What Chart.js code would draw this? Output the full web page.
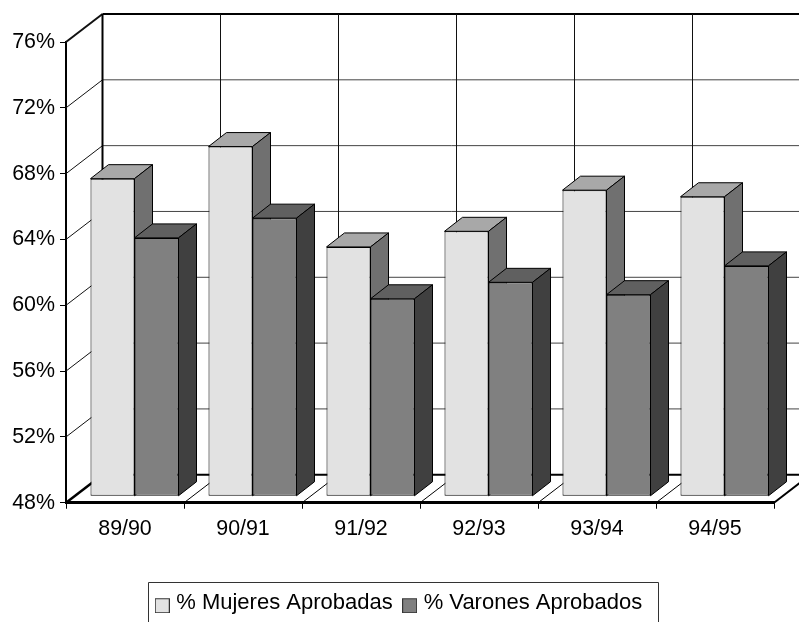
<!DOCTYPE html>
<html>
<head>
  <title>% Aprobados</title>
  <script src="https://cdn.jsdelivr.net/npm/chart.js"></script>
  <style>
    body { margin: 0; background: white; }
    canvas { display: block; }
  </style>
</head>
<body>
  <canvas id="chart" width="799" height="622"></canvas>

  <script>
    const categories = ['89/90', '90/91', '91/92', '92/93', '93/94', '94/95'];
    const mujeres = [67.3, 69.25, 63.15, 64.1, 66.6, 66.2];
    const varones = [63.7, 64.9, 60.0, 61.0, 60.25, 62.0];
    const seriesNames = ['% Mujeres Aprobadas', '% Varones Aprobados'];
    const yMin = 48, yMax = 76, yStep = 4;

    // fake 3D: depth of the box, depth of a bar, and where the bars stand in the box
    const WALL_DX = 36.5, WALL_DY = -28;
    const BAR_DX = 18, BAR_DY = -14;
    const SHIFT_X = 9.5, SHIFT_Y = -6.5;
    const LEGEND_SHIFT = 13.7;

    const shades = [
      { front: '#e2e2e2', top: '#a8a8a8', side: '#707070' },
      { front: '#808080', top: '#606060', side: '#404040' }
    ];

    function poly(ctx, pts, fill) {
      ctx.beginPath();
      pts.forEach((p, i) => i ? ctx.lineTo(p[0], p[1]) : ctx.moveTo(p[0], p[1]));
      ctx.closePath();
      ctx.fillStyle = fill;
      ctx.fill();
      ctx.stroke();
    }

    function line(ctx, x1, y1, x2, y2, width, color) {
      ctx.beginPath();
      ctx.moveTo(x1, y1);
      ctx.lineTo(x2, y2);
      ctx.lineWidth = width;
      ctx.strokeStyle = color;
      ctx.stroke();
    }

    // legend marker, sits a bit lower than the text like in the original
    function swatch(color) {
      const c = document.createElement('canvas');
      c.width = 15;
      c.height = 20;
      const g = c.getContext('2d');
      g.fillStyle = color;
      g.strokeStyle = '#333';
      g.fillRect(0.5, 5.5, 14, 14);
      g.strokeRect(0.5, 5.5, 14, 14);
      return c;
    }

    const box3d = {
      id: 'box3d',
      // the legend is centred on the whole picture, not on the padded width
      afterLayout(chart) {
        const legend = chart.legend;
        legend.left += LEGEND_SHIFT;
        legend.right += LEGEND_SHIFT;
        legend.legendHitBoxes.forEach(h => { h.left += LEGEND_SHIFT; });
      },
      // walls and floor lines
      beforeDatasetsDraw(chart) {
        const { ctx, scales: { x, y }, chartArea: a } = chart;
        ctx.save();
        const backBottom = a.bottom + WALL_DY, backTop = a.top + WALL_DY, backLeft = a.left + WALL_DX;
        y.ticks.forEach(t => {
          const py = y.getPixelForValue(t.value);
          const isEnd = t.value === y.max;
          const isFloor = t.value === y.min;
          if (!isFloor) line(ctx, a.left, py, backLeft, py + WALL_DY, isEnd ? 2 : 1, '#111');
          line(ctx, backLeft, py + WALL_DY, a.right + WALL_DX, py + WALL_DY, isEnd || isFloor ? 2 : 1, isEnd || isFloor ? '#000' : '#444');
        });
        categories.forEach((c, i) => {
          const px = a.left + (a.right - a.left) * (i + 1) / categories.length;
          line(ctx, px + WALL_DX, backTop, px + WALL_DX, backBottom, 1, '#111');
          line(ctx, px, a.bottom, px + WALL_DX, backBottom, i === categories.length - 1 ? 2 : 1, '#000');
        });
        line(ctx, backLeft, backTop, backLeft, backBottom, 2, '#000');
        line(ctx, a.left, a.bottom, backLeft, backBottom, 2.5, '#000');
        ctx.restore();

        // bars left to right, so the right series covers the side of the left one
        ctx.save();
        ctx.translate(SHIFT_X, SHIFT_Y);
        chart.data.datasets.forEach((d, i) => {
          const s = shades[i];
          chart.getDatasetMeta(i).data.forEach(el => {
            const l = el.x - el.width / 2, r = el.x + el.width / 2;
            ctx.strokeStyle = '#000';
            ctx.lineWidth = 1;
            poly(ctx, [[l, el.y], [r, el.y], [r + BAR_DX, el.y + BAR_DY], [l + BAR_DX, el.y + BAR_DY]], s.top);
            poly(ctx, [[r, el.y], [r + BAR_DX, el.y + BAR_DY], [r + BAR_DX, el.base + BAR_DY], [r, el.base]], s.side);
            el.draw(ctx);
          });
        });
        ctx.restore();
      },
      beforeDatasetDraw() {
        return false;
      },
      // legend frame, its bottom edge falls off the picture
      afterDraw(chart) {
        const { ctx, legend } = chart;
        const hit = legend.legendHitBoxes;
        const left = Math.round(hit[0].left - 11);
        const right = Math.round(hit[hit.length - 1].left + hit[hit.length - 1].width + 16.3);
        ctx.save();
        ctx.beginPath();
        ctx.moveTo(left + 0.5, 622);
        ctx.lineTo(left + 0.5, 582.5);
        ctx.lineTo(right + 0.5, 582.5);
        ctx.lineTo(right + 0.5, 622);
        ctx.strokeStyle = '#333';
        ctx.lineWidth = 1;
        ctx.stroke();
        ctx.restore();
      }
    };

    Chart.defaults.font.family = '"Liberation Sans", Arial, sans-serif';
    Chart.defaults.color = '#000';

    new Chart(document.getElementById('chart'), {
      type: 'bar',
      data: {
        labels: categories,
        datasets: [
          { label: seriesNames[0], data: mujeres, backgroundColor: shades[0].front, base: yMin },
          { label: seriesNames[1], data: varones, backgroundColor: shades[1].front, base: yMin }
        ]
      },
      options: {
        responsive: false,
        animation: false,
        layout: { padding: { top: 42, right: 25, left: 0, bottom: -2.25 } },
        datasets: {
          bar: {
            categoryPercentage: 0.746,
            barPercentage: 1,
            borderWidth: 1,
            borderColor: '#000',
            borderSkipped: false
          }
        },
        scales: {
          x: {
            offset: true,
            afterFit(scale) { scale.height = 75.5; },
            grid: { drawOnChartArea: false, offset: true, tickLength: 6, tickColor: '#000', tickWidth: 1 },
            border: { display: true, color: '#000', width: 3 },
            ticks: { font: { size: 21.4 }, padding: 8, maxRotation: 0 }
          },
          y: {
            min: yMin,
            max: yMax,
            afterFit(scale) { scale.width = 66; },
            grid: { drawOnChartArea: false, tickLength: 6, tickColor: '#000', tickWidth: 1 },
            border: { display: true, color: '#000', width: 2 },
            ticks: { stepSize: yStep, font: { size: 21.4 }, padding: 5, callback: v => v + '%' }
          }
        },
        plugins: {
          tooltip: { enabled: false },
          legend: {
            position: 'bottom',
            labels: {
              font: { size: 22 },
              usePointStyle: true,
              boxWidth: 6,
              padding: 14,
              generateLabels(chart) {
                return chart.data.datasets.map((d, i) => ({
                  text: d.label,
                  datasetIndex: i,
                  pointStyle: swatch(shades[i].front),
                  fontColor: '#000'
                }));
              }
            }
          }
        }
      },
      plugins: [box3d]
    });
  </script>
</body>
</html>
